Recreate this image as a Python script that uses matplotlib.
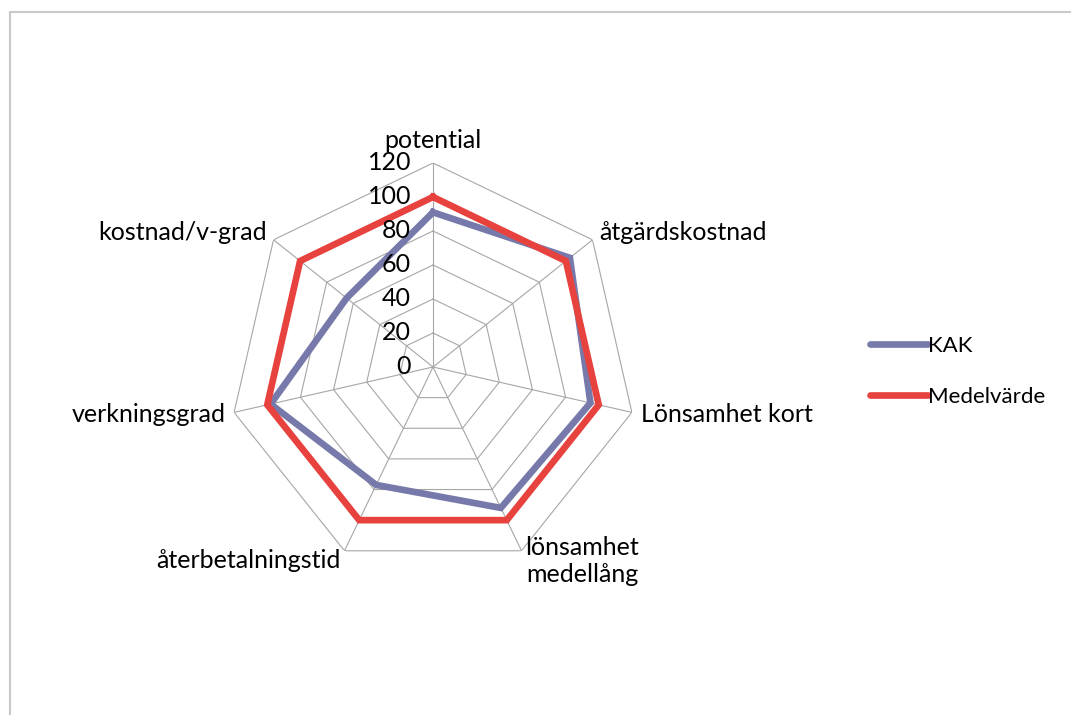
import numpy as np
import matplotlib.pyplot as plt
from matplotlib.patches import Rectangle

plt.rcParams['font.family'] = ['Lato', 'DejaVu Sans']

categories = ['potential', 'åtgärdskostnad', 'Lönsamhet kort', 'lönsamhet\nmedellång',
              'återbetalningstid', 'verkningsgrad', 'kostnad/v-grad']
kak = [91, 103, 95, 92, 77, 98, 65]
medel = [100, 100, 100, 100, 100, 100, 100]
levels = [0, 20, 40, 60, 80, 100, 120]

n = len(categories)
angles = np.linspace(0, 2 * np.pi, n, endpoint=False)
closed = np.append(angles, angles[0])

fig = plt.figure(figsize=(10.71, 7.15), dpi=100)
fig.patches.append(Rectangle((10 / 1071, -0.1), 1.2, 1.1 - 12 / 715,
                             transform=fig.transFigure, fill=False,
                             edgecolor='#c8c8c8', linewidth=1.5))

ax = fig.add_axes([229 / 1071, 144 / 715, 408 / 1071, 408 / 715], projection='polar')
ax.set_theta_zero_location('N')
ax.set_theta_direction(-1)
ax.set_ylim(0, 120)
ax.grid(False)
ax.spines['polar'].set_visible(False)
ax.set_xticks([])
ax.set_yticks([])
ax.patch.set_alpha(0)

grid_col = '#a6a6a6'
for lv in levels[1:]:
    ax.plot(closed, [lv] * (n + 1), color=grid_col, lw=0.8, zorder=1)
for a in angles:
    ax.plot([a, a], [0, 120], color=grid_col, lw=0.8, zorder=1)

ax.plot(closed, kak + kak[:1], color='#7679a9', lw=4.8, solid_joinstyle='miter',
        label='KAK', zorder=3)
ax.plot(closed, medel + medel[:1], color='#e8423f', lw=4.8, solid_joinstyle='miter',
        label='Medelvärde', zorder=4)

for lv in levels:
    ax.annotate(str(lv), xy=(0, lv), xytext=(-22, 0), textcoords='offset pixels',
                ha='right', va='center', fontsize=18, zorder=5)

for a, lab in zip(angles, categories):
    s, c = np.sin(a), np.cos(a)
    if s > 0.1:
        ha = 'left'
    elif s < -0.1:
        ha = 'right'
    else:
        ha = 'center'
    va = 'bottom' if c > 0.95 else 'center'
    ax.annotate(lab, xy=(a, 120), xytext=(9 * s, 11 * c), textcoords='offset pixels',
                ha=ha, va=va, fontsize=18, linespacing=1.2, multialignment='center',
                annotation_clip=False)

leg = fig.legend(loc='upper left', bbox_to_anchor=(850 / 1071, 1 - 316 / 715),
                 frameon=False, fontsize=16, handlelength=2.6, handletextpad=0.0,
                 labelspacing=1.4)
for line in leg.get_lines():
    line.set_solid_capstyle('round')

fig.savefig('out.png', dpi=100)
